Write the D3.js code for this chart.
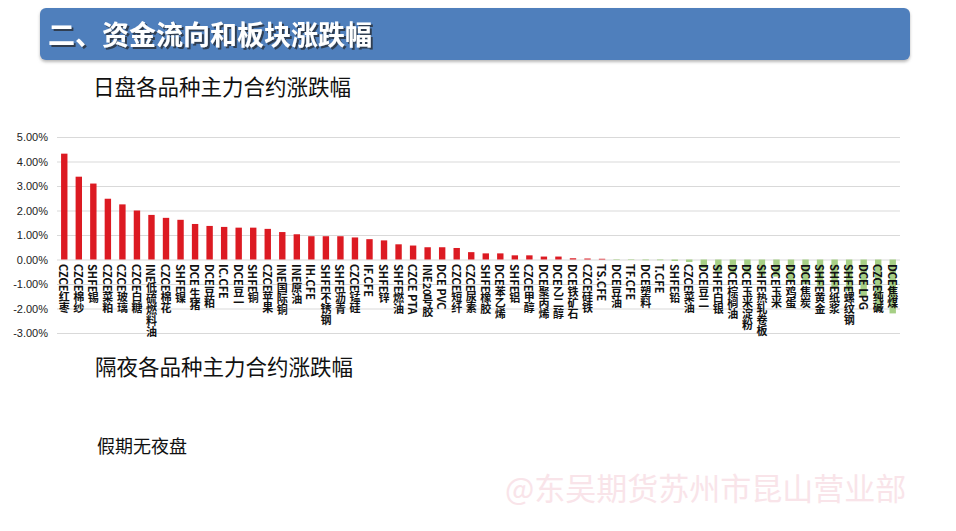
<!DOCTYPE html>
<html><head><meta charset="utf-8">
<script src="https://cdn.jsdelivr.net/npm/d3@7/dist/d3.min.js"></script>
<style>
body{margin:0;background:#fff;}
svg{display:block;font-family:"Noto Sans CJK SC","Noto Sans",sans-serif;}
</style></head>
<body><svg id="c" width="956" height="531"></svg>
<script>
const categories = ["CZCE红枣","CZCE棉纱","SHFE锡","CZCE菜粕","CZCE玻璃","CZCE白糖","INE低硫燃料油","CZCE棉花","SHFE镍","DCE 生猪","DCE豆粕","IC.CFE","DCE豆一","SHFE铜","CZCE苹果","INE国际铜","INE原油","IH.CFE","SHFE不锈钢","SHFE沥青","CZCE锰硅","IF.CFE","SHFE锌","SHFE燃油","CZCE PTA","INE20号胶","DCE PVC","CZCE短纤","CZCE尿素","SHFE橡胶","DCE苯乙烯","SHFE铝","CZCE甲醇","DCE聚丙烯","DCE乙二醇","DCE铁矿石","CZCE硅铁","TS.CFE","DCE豆油","TF.CFE","DCE塑料","T.CFE","SHFE铅","CZCE菜油","DCE豆二","SHFE白银","DCE棕榈油","DCE玉米淀粉","SHFE热轧卷板","DCE玉米","DCE鸡蛋","DCE焦炭","SHFE黄金","SHFE纸浆","SHFE螺纹钢","DCE LPG","CZCE纯碱","DCE焦煤"];
const values = [4.32,3.38,3.10,2.48,2.25,2.00,1.82,1.70,1.62,1.45,1.37,1.33,1.30,1.30,1.25,1.12,1.03,0.95,0.95,0.95,0.90,0.83,0.78,0.62,0.57,0.50,0.50,0.47,0.30,0.25,0.25,0.17,0.17,0.12,0.12,0.05,0.04,0.03,-0.02,-0.02,-0.03,-0.03,-0.06,-0.10,-0.35,-0.50,-0.55,-0.60,-0.65,-0.70,-0.90,-1.00,-1.10,-1.20,-1.30,-1.50,-2.10,-2.20];
const yTicks = [5,4,3,2,1,0,-1,-2,-3];
const titleText = "二、资金流向和板块涨跌幅";
const dayTitle = "日盘各品种主力合约涨跌幅";
const nightTitle = "隔夜各品种主力合约涨跌幅";
const nightNote = "假期无夜盘";
const watermark = "@东吴期货苏州市昆山营业部";

const svg = d3.select("#c");

// header bar
const defs = svg.append("defs");
const f = defs.append("filter").attr("id","sh").attr("x","-10%").attr("y","-10%").attr("width","120%").attr("height","140%");
f.append("feDropShadow").attr("dx",0).attr("dy",2).attr("stdDeviation",1.5).attr("flood-color","#888").attr("flood-opacity",0.6);
const ft = defs.append("filter").attr("id","tsh").attr("x","-5%").attr("y","-20%").attr("width","110%").attr("height","150%");
ft.append("feDropShadow").attr("dx",2).attr("dy",2).attr("stdDeviation",0.6).attr("flood-color","#222").attr("flood-opacity",0.7);
svg.append("rect").attr("x",40).attr("y",8).attr("width",870).attr("height",52).attr("rx",6)
  .attr("fill","#4f7fbc").attr("filter","url(#sh)");
svg.append("text").attr("x",48).attr("y",45).attr("fill","#fff").attr("font-size",27).attr("font-weight","bold")
  .attr("filter","url(#tsh)").text(titleText);

svg.append("text").attr("x",93).attr("y",95).attr("fill","#111").attr("font-size",21.5).text(dayTitle);
svg.append("text").attr("x",95).attr("y",375).attr("fill","#111").attr("font-size",21.5).text(nightTitle);
svg.append("text").attr("x",97).attr("y",453).attr("fill","#111").attr("font-size",18).text(nightNote);
svg.append("text").attr("x",505).attr("y",500).attr("fill","#f9e4e9").attr("font-size",31).text(watermark);

// chart
const x = d3.scaleBand().domain(categories).range([57,900]).paddingInner(0.56).paddingOuter(0.28);
const y = d3.scaleLinear().domain([-3,5]).range([333,137]);

const ax = svg.append("g").attr("transform","translate(57,0)")
  .call(d3.axisLeft(y).tickValues(yTicks).tickSize(-843).tickFormat(d => d.toFixed(2)+"%"));
ax.select(".domain").remove();
ax.selectAll(".tick line").attr("stroke","#d9d9d9").attr("stroke-width",1);
ax.selectAll(".tick text").attr("x",-9).attr("fill","#222").attr("font-size",11)
  .attr("font-family","Liberation Sans, Arial, sans-serif");

svg.append("g").selectAll("rect").data(values).join("rect")
  .attr("x",(d,i)=>x(categories[i]))
  .attr("width",x.bandwidth())
  .attr("y",d=>y(Math.max(0,d)))
  .attr("height",d=>Math.abs(y(d)-y(0)))
  .attr("fill",d=>d>=0?"#dc1a22":"#a6cf85");

svg.append("g").selectAll("text").data(categories).join("text")
  .attr("x",d=>x(d)+x.bandwidth()/2)
  .attr("y",264)
  .attr("font-size",11)
  .attr("font-weight","bold")
  .attr("fill","#111")
  .style("writing-mode","vertical-rl")
  .style("text-orientation","mixed")
  .attr("dominant-baseline","central")
  .text(d=>d);
</script></body></html>
